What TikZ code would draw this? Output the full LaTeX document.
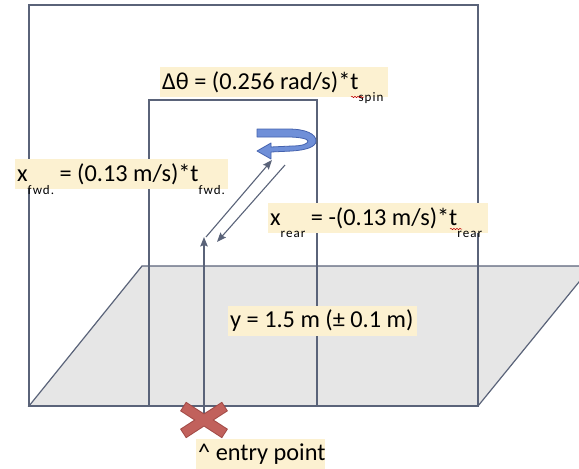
\documentclass[tikz,border=0pt]{standalone}
\usepackage{fontspec}
\setmainfont{Carlito}
\newfontfamily\subfont[LetterSpace=8]{Carlito}
\usetikzlibrary{arrows.meta,decorations.pathmorphing}
\definecolor{ln}{HTML}{5A6379}
\definecolor{lbg}{HTML}{FCF1D1}
\definecolor{floorc}{HTML}{E6E6E6}
\definecolor{loopf}{HTML}{6F8FD8}
\definecolor{loopd}{HTML}{4462AE}
\definecolor{xf}{HTML}{C1615C}
\definecolor{xd}{HTML}{A24B47}
\newcommand{\sbx}[2][-12pt]{\smash{\raisebox{#1}{\subfont\fontsize{13}{13}\selectfont #2}}}
\newcommand{\lbtext}[2]{\makebox[#1][l]{#2}}
\tikzset{
  edge/.style={draw=ln, line width=1.2pt},
  arr/.style={draw=ln, line width=1.1pt, -{Stealth[length=9.5pt,width=7.5pt,inset=1.5pt]}},
  lbl/.style={fill=lbg, inner xsep=2pt, inner ysep=0pt, minimum height=30pt, anchor=west, font=\fontsize{24.3}{27}\selectfont},
  squig/.style={draw=red!75!black, line width=0.5pt, decorate, decoration={snake, amplitude=0.7pt, segment length=3pt}}
}
\begin{document}
\begin{tikzpicture}[x=1pt,y=-1pt]
\useasboundingbox (0,0) rectangle (579,469);
\begin{scope}
  \clip (0,0) rectangle (579,469);
  \fill[floorc] (29,406) -- (478,406) -- (592,266) -- (142,266) -- cycle;
  \draw[edge] (29,406) -- (478,406) -- (592,266) -- (142,266) -- cycle;
\end{scope}
% outer and inner frames
\draw[edge] (29,5) rectangle (478,406);
\draw[edge] (149,100) rectangle (317,406);

% named points for the motion arrows
\coordinate (entry) at (204,420);
\coordinate (top) at (204,237);
\coordinate (fwdA) at (206,237);
\coordinate (fwdB) at (272,160);
\coordinate (rearA) at (285,165);
\coordinate (rearB) at (217,242);
\draw[arr] (entry) -- (top);
\draw[arr] (fwdA) -- (fwdB);
\draw[arr] (rearA) -- (rearB);

% spin loop arrow
\filldraw[fill=loopf, draw=loopd, line width=0.8pt, line join=round]
  (257,129) -- (288,129) .. controls (306,129) and (316,134) .. (316,141)
  .. controls (316,147) and (306,150) .. (292,151) -- (271,152) -- (271,159)
  -- (257,151) -- (271,143) -- (271,147) -- (292,146)
  .. controls (302,146) and (308,144) .. (308,141)
  .. controls (308,139) and (300,137) .. (288,137) -- (257,137) -- cycle;

% entry cross
\begin{scope}[shift={(entry)}]
  \foreach \a in {33,-33} {
    \draw[xd, line width=2pt, rotate=\a] (-24,-4.5) rectangle (24,4.5);
  }
  \foreach \a in {33,-33} {
    \fill[xf, rotate=\a] (-24,-4.5) rectangle (24,4.5);
  }
\end{scope}

% labels
\node[lbl] (spin) at (160,82) {\lbtext{224pt}{Δθ = (0.256 rad/s)*t\sbx{spin}}};
\node[lbl] (fwd) at (15,174) {\lbtext{209pt}{x\sbx[-13pt]{fwd.} = (0.13 m/s)*t\sbx[-13pt]{fwd.}}};
\node[lbl] (rear) at (268,218) {\lbtext{216pt}{x\sbx{rear} = -(0.13 m/s)*t\sbx{rear}}};
\node[lbl] (height) at (228,321) {\lbtext{185pt}{y = 1.5 m (± 0.1 m)}};
\node[lbl] (entrylbl) at (196,454) {\lbtext{125pt}{\textasciicircum{} entry point}};

\draw[squig] (351,97) -- (364,97);
\draw[squig] (450,229) -- (462,229);
\end{tikzpicture}
\end{document}
